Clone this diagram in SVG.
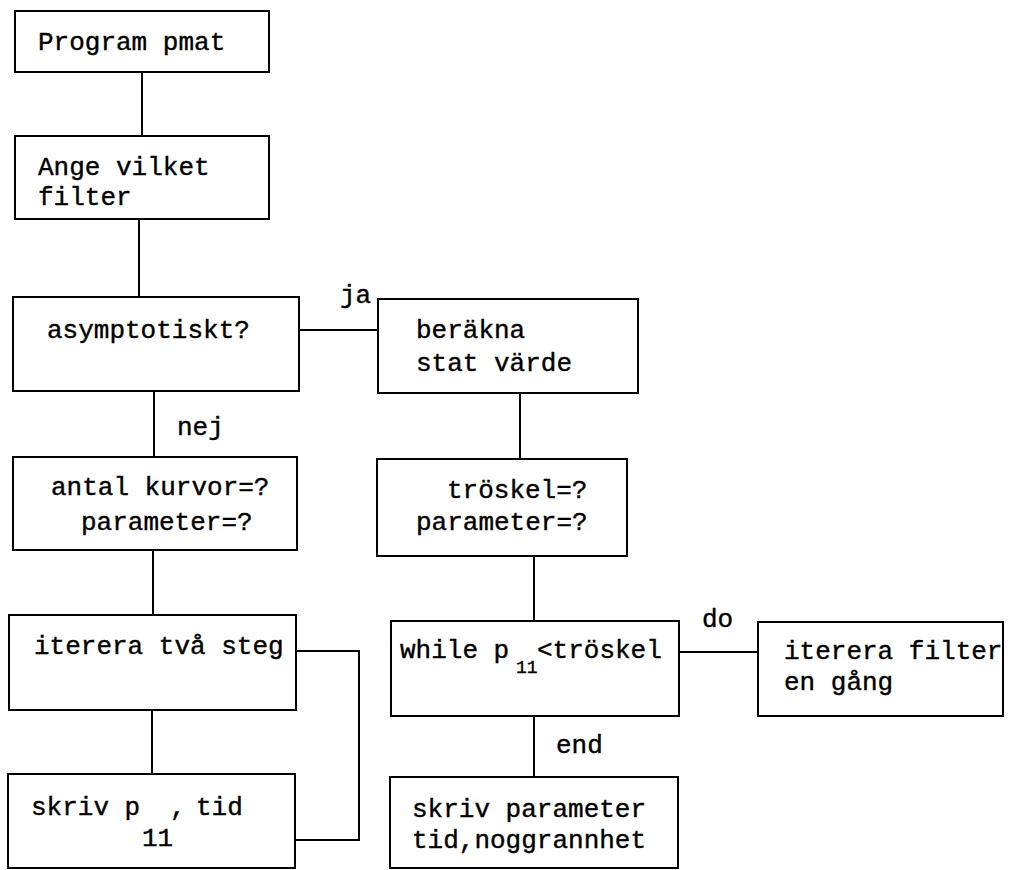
<svg xmlns="http://www.w3.org/2000/svg" width="1018" height="870" viewBox="0 0 1018 870">
<style>
.box{fill:none;stroke:#000;stroke-width:2}
.ln{fill:none;stroke:#000;stroke-width:2}
text{font-family:"Liberation Mono","DejaVu Sans Mono",monospace;font-size:26px;fill:#000;stroke:#000;stroke-width:0.4}
.sub{font-size:18px}
</style>
<rect width="1018" height="870" fill="#fff"/>
<g id="connectors">
<path class="ln" d="M142 72V136"/>
<path class="ln" d="M139 219V297"/>
<path class="ln" d="M299 330H378"/>
<path class="ln" d="M154 391V457"/>
<path class="ln" d="M153 550V615"/>
<path class="ln" d="M152 710V774"/>
<path class="ln" d="M296 651H359V840H295"/>
<path class="ln" d="M520 393V459"/>
<path class="ln" d="M534 556V621"/>
<path class="ln" d="M679 652H758"/>
<path class="ln" d="M534 716V777"/>
<text x="340" y="303">ja</text>
<text x="177" y="435">nej</text>
<text x="702" y="627">do</text>
<text x="556" y="753">end</text>
</g>
<g id="n_program">
<rect class="box" x="15" y="11" width="254" height="61"/>
<text x="38" y="50">Program pmat</text>
</g>
<g id="n_ange">
<rect class="box" x="15" y="136" width="254" height="83"/>
<text x="38" y="175">Ange vilket</text>
<text x="38" y="205">filter</text>
</g>
<g id="n_asym">
<rect class="box" x="13" y="297" width="286" height="94"/>
<text x="47" y="338">asymptotiskt?</text>
</g>
<g id="n_berakna">
<rect class="box" x="378" y="299" width="260" height="94"/>
<text x="416" y="338">beräkna</text>
<text x="416" y="371">stat värde</text>
</g>
<g id="n_antal">
<rect class="box" x="13" y="457" width="284" height="93"/>
<text x="51" y="495">antal kurvor=?</text>
<text x="81" y="530">parameter=?</text>
</g>
<g id="n_troskel">
<rect class="box" x="377" y="459" width="250" height="97"/>
<text x="447" y="498">tröskel=?</text>
<text x="416" y="530">parameter=?</text>
</g>
<g id="n_iterera2">
<rect class="box" x="9" y="615" width="287" height="95"/>
<text x="34" y="654">iterera två steg</text>
</g>
<g id="n_while">
<rect class="box" x="391" y="621" width="288" height="95"/>
<text x="400" y="658">while p</text>
<text class="sub" x="516" y="673">11</text>
<text x="537" y="658">&lt;tröskel</text>
</g>
<g id="n_iterera_filter">
<rect class="box" x="758" y="622" width="245" height="94"/>
<text x="784" y="659">iterera filter</text>
<text x="784" y="690">en gång</text>
</g>
<g id="n_skriv_p">
<rect class="box" x="8" y="774" width="287" height="94"/>
<text x="31" y="815">skriv p</text>
<text x="170" y="815">,</text>
<text x="196" y="815">tid</text>
<text x="142" y="846">11</text>
</g>
<g id="n_skriv_param">
<rect class="box" x="390" y="777" width="288" height="91"/>
<text x="412" y="817">skriv parameter</text>
<text x="412" y="848">tid,noggrannhet</text>
</g>
</svg>
